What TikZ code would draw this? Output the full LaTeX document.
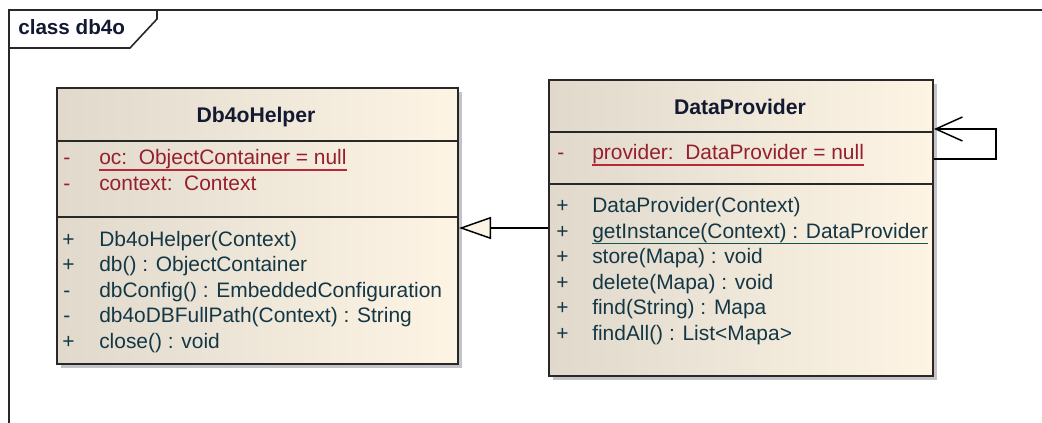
\documentclass[tikz,border=0pt]{standalone}
\usepackage{fontspec}
\setmainfont{Liberation Sans}
\usetikzlibrary{arrows.meta,calc}

\definecolor{boxL}{RGB}{224,217,204}
\definecolor{boxR}{RGB}{253,244,228}
\definecolor{attrC}{RGB}{150,30,45}
\definecolor{attrU}{RGB}{185,40,55}
\definecolor{methC}{RGB}{20,55,70}
\definecolor{methU}{RGB}{20,85,80}
\definecolor{shadowC}{RGB}{196,196,200}
\definecolor{triC}{RGB}{252,244,228}
\definecolor{frameC}{RGB}{40,40,40}
\definecolor{titleC}{RGB}{20,25,50}

\tikzset{
  classbox/.style={draw=frameC, line width=1.5pt, left color=boxL, right color=boxR,
    rectangle, inner sep=0pt, anchor=north west},
  shadowbox/.style={fill=shadowC, draw=none},
  sep/.style={draw=frameC, line width=1.3pt},
  txt/.style={anchor=base west, inner sep=0pt, font=\fontsize{15.7}{18}\selectfont},
  title/.style={anchor=base, inner sep=0pt, font=\bfseries\fontsize{15.9}{18}\selectfont, text=titleC},
  attr/.style={txt, text=attrC},
  meth/.style={txt, text=methC},
  ulA/.style={draw=attrU, line width=1.1pt},
  ulM/.style={draw=methU, line width=1.1pt},
  frameline/.style={draw=frameC, line width=1.2pt},
  gen/.style={draw=black, line width=1.1pt, -{Triangle[open, length=24pt, width=16.5pt, fill=triC]}},
  assoc/.style={draw=black, line width=1.1pt, -{Straight Barb[length=20pt, width=18pt]}}
}

\begin{document}
\begin{tikzpicture}[x=0.75pt, y=-0.75pt]
\useasboundingbox (0,0) rectangle (1042,423);

% diagram frame with its name tab
\draw[frameline] (9,423) -- (9,10) -- (1042,10);
\draw[frameline] (9,48) -- (130,48) -- (157,19) -- (157,10);
\node[anchor=base west, inner sep=0pt, font=\bfseries\fontsize{15.5}{17}\selectfont, text=titleC] (frametitle) at (18,35) {class db4o};

% shadows
\fill[shadowbox] (61,92) rectangle (462,368);
\fill[shadowbox] (553,84) rectangle (937,380);

% class Db4oHelper
\node[classbox, minimum width=300.75pt, minimum height=207pt] (helper) at (56,87) {};
\draw[sep] (helper.west |- 0,141) -- (helper.east |- 0,141);
\draw[sep] (helper.west |- 0,217) -- (helper.east |- 0,217);
\node[title] (helperT) at (256,123) {Db4oHelper};
\node[attr] (hv1) at (63,165) {-};
\node[attr] (ha1) at (99,165) {oc:\ \ ObjectContainer = null};
\draw[ulA] ($(ha1.base west)+(0,5)$) -- ($(ha1.base east)+(0,5)$);
\node[attr] (hv2) at (63,191) {-};
\node[attr] (ha2) at (99,191) {context:\ \ Context};
\node[meth] (hw1) at (62,246.5) {+};
\node[meth] (hm1) at (99,246.5) {Db4oHelper(Context)};
\node[meth] (hw2) at (62,272) {+};
\node[meth] (hm2) at (99,272) {db() : ObjectContainer};
\node[meth] (hw3) at (63,297.5) {-};
\node[meth] (hm3) at (99,297.5) {dbConfig() : EmbeddedConfiguration};
\node[meth] (hw4) at (63,323) {-};
\node[meth] (hm4) at (99,323) {db4oDBFullPath(Context) : String};
\node[meth] (hw5) at (62,348.5) {+};
\node[meth] (hm5) at (99,348.5) {close() : void};

% class DataProvider
\node[classbox, minimum width=288pt, minimum height=222pt] (dp) at (548,79) {};
\draw[sep] (dp.west |- 0,132) -- (dp.east |- 0,132);
\draw[sep] (dp.west |- 0,184) -- (dp.east |- 0,184);
\node[title] (dpT) at (740,115) {DataProvider};
\node[attr] (dv1) at (557,160) {-};
\node[attr] (da1) at (592,160) {provider:\ \ DataProvider = null};
\draw[ulA] ($(da1.base west)+(0,5)$) -- ($(da1.base east)+(0,5)$);
\node[meth] (dw1) at (556,213) {+};
\node[meth] (dm1) at (592,213) {DataProvider(Context)};
\node[meth] (dw2) at (556,238.5) {+};
\node[meth] (dm2) at (592,238.5) {getInstance(Context) : DataProvider};
\draw[ulM] ($(dm2.base west)+(0,5)$) -- ($(dm2.base east)+(0,5)$);
\node[meth] (dw3) at (556,264) {+};
\node[meth] (dm3) at (592,264) {store(Mapa) : void};
\node[meth] (dw4) at (556,289.5) {+};
\node[meth] (dm4) at (592,289.5) {delete(Mapa) : void};
\node[meth] (dw5) at (556,315) {+};
\node[meth] (dm5) at (592,315) {find(String) : Mapa};
\node[meth] (dw6) at (556,340.5) {+};
\node[meth] (dm6) at (592,340.5) {findAll() : List<Mapa>};

% generalization DataProvider -> Db4oHelper
\draw[gen] (dp.west) -- (dp.west -| helper.east);

% self association on DataProvider
\draw[assoc] ([yshift=51.75pt]dp.east) -- ++(62,0) -- ++(0,-30) -- ([yshift=74.25pt]dp.east);
\end{tikzpicture}
\end{document}
